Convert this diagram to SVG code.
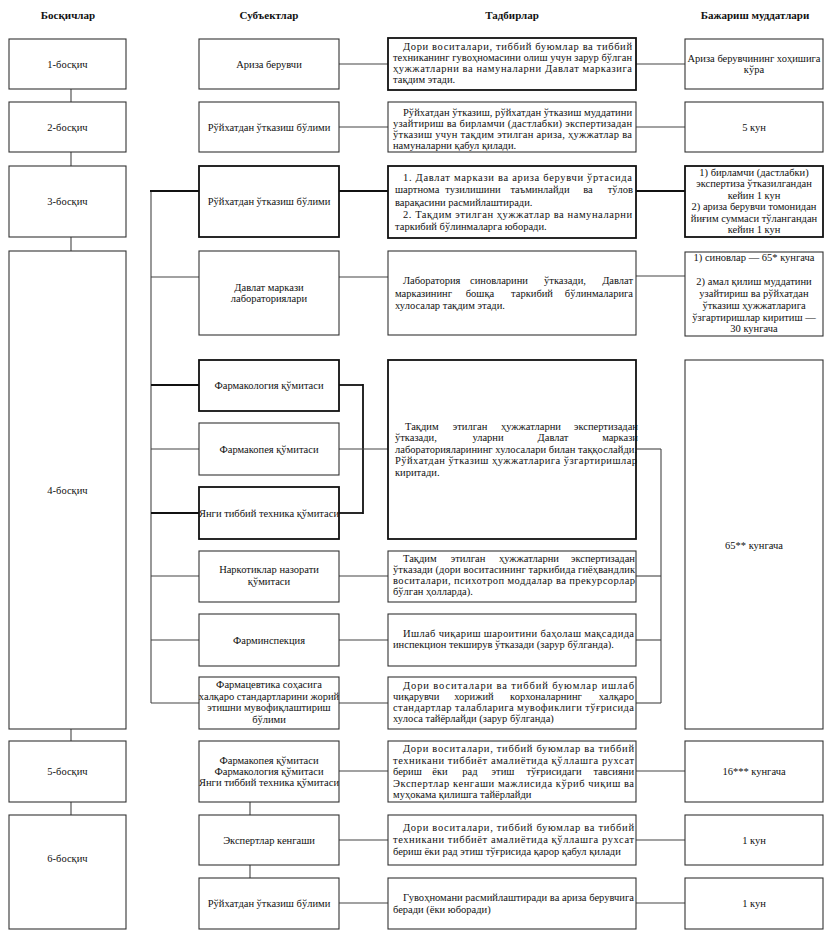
<svg xmlns="http://www.w3.org/2000/svg" width="834" height="940" viewBox="0 0 834 940">
<style>
text{font-family:"Liberation Serif","Times New Roman",serif;font-size:10.5px;fill:#111}
.h{font-weight:bold;font-size:11px;text-anchor:middle}
.c{text-anchor:middle}
.e{text-anchor:end}
rect{fill:#fff;stroke:#333;stroke-width:1.1}
rect.t{stroke:#111;stroke-width:1.8}
.ln line{stroke:#444;stroke-width:1.1}
.ln line.t{stroke:#111;stroke-width:1.8}
</style>
<rect x="0" y="0" width="834" height="940" style="fill:#fff;stroke:none"/>
<g id="headers">
<text class="h" x="68" y="19">Босқичлар</text>
<text class="h" x="269" y="19">Субъектлар</text>
<text class="h" x="512" y="19">Тадбирлар</text>
<text class="h" x="755" y="19">Бажариш муддатлари</text>
</g>
<g id="connectors" class="ln">
<line x1="71" y1="89" x2="71" y2="102"/>
<line x1="71" y1="152" x2="71" y2="166"/>
<line x1="71" y1="237" x2="71" y2="251"/>
<line x1="71" y1="729" x2="71" y2="741"/>
<line x1="71" y1="802" x2="71" y2="815"/>
<line x1="339" y1="64" x2="388" y2="64"/>
<line x1="636" y1="64" x2="685" y2="64"/>
<line x1="339" y1="127" x2="388" y2="127"/>
<line x1="636" y1="127" x2="685" y2="127"/>
<line class="t" x1="339" y1="191" x2="388" y2="191"/>
<line class="t" x1="636" y1="191" x2="685" y2="191"/>
<line x1="339" y1="277" x2="388" y2="277"/>
<line x1="636" y1="276" x2="685" y2="276"/>
<line x1="151" y1="191" x2="151" y2="703"/>
<line class="t" x1="150" y1="191" x2="199" y2="191"/>
<line x1="151" y1="277" x2="199" y2="277"/>
<line class="t" x1="151" y1="385" x2="199" y2="385"/>
<line x1="151" y1="449" x2="199" y2="449"/>
<line class="t" x1="151" y1="513" x2="199" y2="513"/>
<line x1="151" y1="576" x2="199" y2="576"/>
<line x1="151" y1="640" x2="199" y2="640"/>
<line x1="151" y1="703" x2="199" y2="703"/>
<line class="t" x1="339" y1="385" x2="363" y2="385"/>
<line class="t" x1="363" y1="384" x2="363" y2="514"/>
<line class="t" x1="339" y1="513" x2="363" y2="513"/>
<line x1="339" y1="449" x2="388" y2="449"/>
<line x1="636" y1="449" x2="661" y2="449"/>
<line x1="661" y1="449" x2="661" y2="703"/>
<line x1="636" y1="576" x2="661" y2="576"/>
<line x1="636" y1="640" x2="661" y2="640"/>
<line x1="636" y1="703" x2="661" y2="703"/>
<line x1="339" y1="576" x2="388" y2="576"/>
<line x1="339" y1="640" x2="388" y2="640"/>
<line x1="339" y1="703" x2="388" y2="703"/>
<line x1="339" y1="771" x2="388" y2="771"/>
<line x1="636" y1="771" x2="685" y2="771"/>
<line x1="339" y1="840" x2="388" y2="840"/>
<line x1="636" y1="840" x2="685" y2="840"/>
<line x1="339" y1="903" x2="388" y2="903"/>
<line x1="636" y1="903" x2="685" y2="903"/>
<line x1="250" y1="802" x2="250" y2="815"/>
<line x1="250" y1="865" x2="250" y2="878"/>
</g>
<g id="stage1"><rect x="9" y="39" width="117" height="50"/><text class="c" x="67.5" y="68">1-босқич</text></g>
<g id="stage2"><rect x="9" y="102" width="117" height="50"/><text class="c" x="67.5" y="131">2-босқич</text></g>
<g id="stage3"><rect x="9" y="166" width="117" height="71"/><text class="c" x="67.5" y="205">3-босқич</text></g>
<g id="stage4"><rect x="9" y="251" width="117" height="478"/><text class="c" x="67.5" y="494">4-босқич</text></g>
<g id="stage5"><rect x="9" y="741" width="117" height="61"/><text class="c" x="67.5" y="775">5-босқич</text></g>
<g id="stage6"><rect x="9" y="815" width="117" height="114"/><text class="c" x="67.5" y="862">6-босқич</text></g>

<g id="subj1"><rect x="199" y="39" width="140" height="50"/><text class="c" x="269" y="68">Ариза берувчи</text></g>
<g id="subj2"><rect x="199" y="102" width="140" height="50"/><text class="c" x="269" y="131">Рўйхатдан ўтказиш бўлими</text></g>
<g id="subj3"><rect class="t" x="199" y="166" width="140" height="71"/><text class="c" x="269" y="205">Рўйхатдан ўтказиш бўлими</text></g>
<g id="subj4"><rect x="199" y="251" width="140" height="84"/><text class="c" x="269" y="291">Давлат маркази</text><text class="c" x="269" y="302">лабораториялари</text></g>
<g id="subj5"><rect class="t" x="199" y="360" width="140" height="51"/><text class="c" x="269" y="389">Фармакология қўмитаси</text></g>
<g id="subj6"><rect x="199" y="423" width="140" height="52"/><text class="c" x="269" y="453">Фармакопея қўмитаси</text></g>
<g id="subj7"><rect class="t" x="199" y="487" width="140" height="52"/><text class="c" x="269" y="517">Янги тиббий техника қўмитаси</text></g>
<g id="subj8"><rect x="199" y="551" width="140" height="51"/><text class="c" x="269" y="573">Наркотиклар назорати</text><text class="c" x="269" y="585">қўмитаси</text></g>
<g id="subj9"><rect x="199" y="614" width="140" height="52"/><text class="c" x="269" y="644">Фарминспекция</text></g>
<g id="subj10"><rect x="199" y="677" width="140" height="52"/><text class="c" x="269" y="688">Фармацевтика соҳасига</text><text class="c" x="269" y="700">халқаро стандартларини жорий</text><text class="c" x="269" y="711">этишни мувофиқлаштириш</text><text class="c" x="269" y="723">бўлими</text></g>
<g id="subj11"><rect x="199" y="741" width="140" height="61"/><text class="c" x="269" y="764">Фармакопея қўмитаси</text><text class="c" x="269" y="775">Фармакология қўмитаси</text><text class="c" x="269" y="786">Янги тиббий техника қўмитаси</text></g>
<g id="subj12"><rect x="199" y="815" width="140" height="50"/><text class="c" x="269" y="844">Экспертлар кенгаши</text></g>
<g id="subj13"><rect x="199" y="878" width="140" height="51"/><text class="c" x="269" y="907">Рўйхатдан ўтказиш бўлими</text></g>

<g id="act1"><rect class="t" x="388" y="38" width="248" height="52"/>
<text x="403" y="49.5" textLength="229" lengthAdjust="spacing">Дори воситалари, тиббий буюмлар ва тиббий</text>
<text x="393" y="60.5" textLength="239" lengthAdjust="spacing">техниканинг гувоҳномасини олиш учун зарур бўлган</text>
<text x="393" y="71.5" textLength="239" lengthAdjust="spacing">ҳужжатларни ва намуналарни Давлат марказига</text>
<text x="393" y="82.5">тақдим этади.</text></g>
<g id="act2"><rect x="388" y="102" width="248" height="50"/>
<text x="403" y="115.5" textLength="229" lengthAdjust="spacing">Рўйхатдан ўтказиш, рўйхатдан ўтказиш муддатини</text>
<text x="393" y="126.5" textLength="239" lengthAdjust="spacing">узайтириш ва бирламчи (дастлабки) экспертизадан</text>
<text x="393" y="137.5" textLength="239" lengthAdjust="spacing">ўтказиш учун тақдим этилган ариза, ҳужжатлар ва</text>
<text x="393" y="148.5">намуналарни қабул қилади.</text></g>
<g id="act3"><rect class="t" x="388" y="166" width="248" height="72"/>
<text x="403" y="180.5" textLength="229" lengthAdjust="spacing">1. Давлат маркази ва ариза берувчи ўртасида</text>
<text x="395" y="193">шартнома</text><text class="c" y="193"><tspan x="473">тузилишини</tspan><tspan x="540">таъминлайди</tspan><tspan x="588">ва</tspan></text><text class="e" x="633" y="193">тўлов</text>
<text x="395" y="205.5">варақасини расмийлаштиради.</text>
<text x="403" y="218" textLength="229" lengthAdjust="spacing">2. Тақдим этилган ҳужжатлар ва намуналарни</text>
<text x="395" y="230">таркибий бўлинмаларга юборади.</text></g>
<g id="act4"><rect x="388" y="251" width="248" height="84"/>
<text x="403" y="284">Лаборатория</text><text class="c" y="284"><tspan x="499">синовларини</tspan><tspan x="565">ўтказади,</tspan></text><text class="e" x="633" y="284">Давлат</text>
<text x="395" y="296.5">марказининг</text><text class="c" y="296.5"><tspan x="480">бошқа</tspan><tspan x="532">таркибий</tspan></text><text class="e" x="633" y="296.5">бўлинмаларига</text>
<text x="395" y="309">хулосалар тақдим этади.</text></g>
<g id="act5"><rect class="t" x="388" y="360" width="248" height="179"/>
<text x="405" y="429.5">Тақдим</text><text class="c" y="429.5"><tspan x="470">этилган</tspan><tspan x="531">ҳужжатларни</tspan></text><text class="e" x="638" y="429.5">экспертизадан</text>
<text x="395" y="441">ўтказади,</text><text class="c" y="441"><tspan x="488">уларни</tspan><tspan x="553">Давлат</tspan></text><text class="e" x="638" y="441">маркази</text>
<text x="395" y="452.5" textLength="242" lengthAdjust="spacing">лабораторияларининг хулосалари билан таққослайди.</text>
<text x="395" y="464" textLength="242" lengthAdjust="spacing">Рўйхатдан ўтказиш ҳужжатларига ўзгартиришлар</text>
<text x="395" y="475.5">киритади.</text></g>
<g id="act6"><rect x="388" y="551" width="248" height="51"/>
<text x="403" y="561.5">Тақдим</text><text class="c" y="561.5"><tspan x="468">этилган</tspan><tspan x="529">ҳужжатларни</tspan></text><text class="e" x="635" y="561.5">экспертизадан</text>
<text x="393" y="572.5" textLength="242" lengthAdjust="spacing">ўтказади (дори воситасининг таркибида гиёҳвандлик</text>
<text x="393" y="583.5" textLength="242" lengthAdjust="spacing">воситалари, психотроп моддалар ва прекурсорлар</text>
<text x="393" y="594.5">бўлган ҳолларда).</text></g>
<g id="act7"><rect x="388" y="614" width="248" height="52"/>
<text x="403" y="636.5" textLength="231" lengthAdjust="spacing">Ишлаб чиқариш шароитини баҳолаш мақсадида</text>
<text x="393" y="647.5">инспекцион текширув ўтказади (зарур бўлганда).</text></g>
<g id="act8"><rect x="388" y="677" width="248" height="52"/>
<text x="403" y="688.5" textLength="231" lengthAdjust="spacing">Дори воситалари ва тиббий буюмлар ишлаб</text>
<text x="393" y="699.5">чиқарувчи</text><text class="c" y="699.5"><tspan x="474">хорижий</tspan><tspan x="546">корхоналарнинг</tspan></text><text class="e" x="634" y="699.5">халқаро</text>
<text x="393" y="710.5" textLength="241" lengthAdjust="spacing">стандартлар талабларига мувофиклиги тўғрисида</text>
<text x="393" y="722">хулоса тайёрлайди (зарур бўлганда)</text></g>
<g id="act9"><rect x="388" y="741" width="248" height="61"/>
<text x="403" y="752" textLength="231" lengthAdjust="spacing">Дори воситалари, тиббий буюмлар ва тиббий</text>
<text x="393" y="763.5" textLength="241" lengthAdjust="spacing">техникани тиббиёт амалиётида қўллашга рухсат</text>
<text x="393" y="775">бериш</text><text class="c" y="775"><tspan x="440">ёки</tspan><tspan x="470">рад</tspan><tspan x="503">этиш</tspan><tspan x="554">тўғрисидаги</tspan></text><text class="e" x="634" y="775">тавсияни</text>
<text x="393" y="786.5" textLength="241" lengthAdjust="spacing">Экспертлар кенгаши мажлисида кўриб чиқиш ва</text>
<text x="393" y="798">муҳокама қилишга тайёрлайди</text></g>
<g id="act10"><rect x="388" y="815" width="248" height="50"/>
<text x="403" y="831" textLength="231" lengthAdjust="spacing">Дори воситалари, тиббий буюмлар ва тиббий</text>
<text x="393" y="843" textLength="241" lengthAdjust="spacing">техникани тиббиёт амалиётида қўллашга рухсат</text>
<text x="393" y="855">бериш ёки рад этиш тўғрисида қарор қабул қилади</text></g>
<g id="act11"><rect x="388" y="878" width="248" height="51"/>
<text x="403" y="901" textLength="231" lengthAdjust="spacing">Гувоҳномани расмийлаштиради ва ариза берувчига</text>
<text x="393" y="913">беради (ёки юборади)</text></g>

<g id="term1"><rect x="685" y="39" width="138" height="50"/><text class="c" x="754" y="62">Ариза берувчининг хоҳишига</text><text class="c" x="754" y="73">кўра</text></g>
<g id="term2"><rect x="685" y="102" width="138" height="50"/><text class="c" x="754" y="131">5 кун</text></g>
<g id="term3"><rect class="t" x="685" y="166" width="138" height="71"/>
<text class="c" x="754" y="175.5">1) бирламчи (дастлабки)</text>
<text class="c" x="754" y="187">экспертиза ўтказилгандан</text>
<text class="c" x="754" y="198.5">кейин 1 кун</text>
<text class="c" x="754" y="210">2) ариза берувчи томонидан</text>
<text class="c" x="754" y="221.5">йиғим суммаси тўлангандан</text>
<text class="c" x="754" y="233">кейин 1 кун</text></g>
<g id="term4"><rect x="685" y="252" width="138" height="84"/>
<text class="c" x="754" y="261">1) синовлар — 65* кунгача</text>
<text class="c" x="754" y="285">2) амал қилиш муддатини</text>
<text class="c" x="754" y="297">узайтириш ва рўйхатдан</text>
<text class="c" x="754" y="309">ўтказиш ҳужжатларига</text>
<text class="c" x="754" y="321">ўзгартиришлар киритиш —</text>
<text class="c" x="754" y="332">30 кунгача</text></g>
<g id="term5"><rect x="685" y="360" width="138" height="369"/><text class="c" x="754" y="549">65** кунгача</text></g>
<g id="term6"><rect x="685" y="741" width="138" height="61"/><text class="c" x="754" y="775">16*** кунгача</text></g>
<g id="term7"><rect x="685" y="815" width="138" height="50"/><text class="c" x="754" y="844">1 кун</text></g>
<g id="term8"><rect x="685" y="878" width="138" height="51"/><text class="c" x="754" y="907">1 кун</text></g>
</svg>
